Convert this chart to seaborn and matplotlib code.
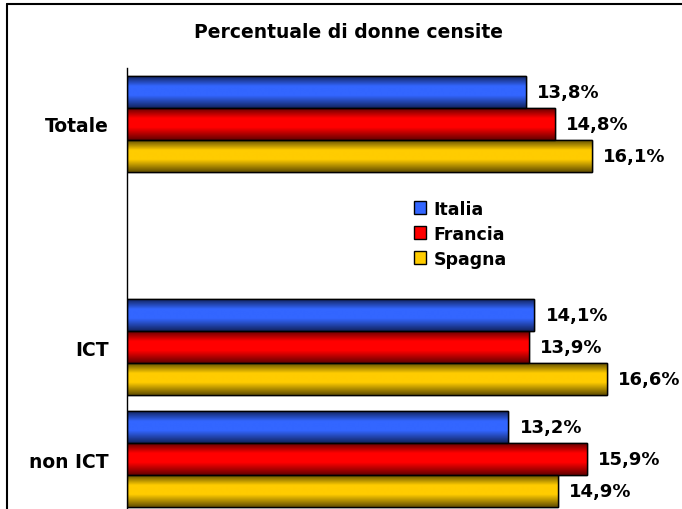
import matplotlib
matplotlib.use("Agg")
import matplotlib.pyplot as plt
import matplotlib.lines as mlines
import matplotlib.patches as mpatches
import numpy as np
import pandas as pd
import seaborn as sns
from matplotlib.colors import LinearSegmentedColormap

sns.set_theme(style="white")
plt.rcParams["font.family"] = ["DejaVu Sans"]
plt.rcParams["text.color"] = "black"

title = "Percentuale di donne censite"
categories = ["Totale", " ", "ICT", "non ICT"]
countries = ["Italia", "Francia", "Spagna"]
italia = [13.8, 14.1, 13.2]
francia = [14.8, 13.9, 15.9]
spagna = [16.1, 16.6, 14.9]
data_categories = ["Totale", "ICT", "non ICT"]

colors = {"Italia": "#3366ff", "Francia": "#ff0000", "Spagna": "#ffcc00"}
dark = {"Italia": "#12245f", "Francia": "#650000", "Spagna": "#634f00"}

rows = []
for name, vals in zip(countries, [italia, francia, spagna]):
    for c, v in zip(data_categories, vals):
        rows.append({"cat": c, "paese": name, "val": v})
df = pd.DataFrame(rows)

W, H = 682, 510
fig = plt.figure(figsize=(W / 100, H / 100), dpi=100)
ax = fig.add_axes([127 / W, (H - 516) / H, (W - 127) / W, 447 / H])

sns.barplot(data=df, y="cat", x="val", hue="paese", order=categories,
            hue_order=countries, palette=colors, orient="h", width=0.857,
            edgecolor="black", linewidth=1.0, saturation=1, legend=False, ax=ax)

ax.set_xlim(0, (W - 127) / 28.9)
ax.set_ylim(3.5, -0.5)

# gradient shading per bar
for cont, name in zip(ax.containers, countries):
    cmap = LinearSegmentedColormap.from_list(
        name, [dark[name], colors[name], colors[name], dark[name]], N=256)
    grad = np.concatenate([np.linspace(0, 0.42, 40), np.linspace(0.42, 0.58, 10),
                           np.linspace(0.58, 1, 50)]).reshape(-1, 1)
    for p in cont.patches:
        x0, y0 = p.get_x(), p.get_y()
        w, h = p.get_width(), p.get_height()
        if not np.isfinite(w) or w == 0:
            continue
        im = ax.imshow(grad, cmap=cmap, aspect="auto", extent=[x0, x0 + w, y0 + h, y0],
                       interpolation="bilinear", zorder=p.get_zorder() + 0.1)
        im.set_clip_path(p)
        edge = mpatches.Rectangle((x0, y0), w, h, fill=False, edgecolor="black",
                                  linewidth=1.0, zorder=p.get_zorder() + 0.2)
        ax.add_patch(edge)
    labels = [("" if not np.isfinite(p.get_width()) else f"{p.get_width():.1f}%".replace(".", ","))
              for p in cont.patches]
    ax.bar_label(cont, labels=labels, padding=8, fontsize=13, fontweight="bold",
                 color="black")

ax.set_xlim(0, (W - 127) / 28.9)
ax.set_ylim(3.5, -0.5)
ax.set_xlabel("")
ax.set_ylabel("")
ax.set_xticks([])
ax.tick_params(axis="y", length=0, pad=13)
for lab in ax.get_yticklabels():
    lab.set_fontsize(13.5)
    lab.set_fontweight("bold")
    lab.set_color("black")
for s in ["top", "right", "bottom"]:
    ax.spines[s].set_visible(False)
ax.spines["left"].set_color("black")
ax.spines["left"].set_linewidth(1.0)

handles = [mpatches.Patch(facecolor=colors[c], edgecolor="black", linewidth=1.0, label=c)
           for c in countries]
leg = fig.legend(handles=handles, loc="upper left", bbox_to_anchor=(398 / W, 1 - 185 / H),
                 frameon=False, prop={"weight": "bold", "size": 12.5}, labelcolor="black",
                 handlelength=0.7, handleheight=0.7, handletextpad=0.45, labelspacing=0.4)

fig.text(349 / W, 1 - 33 / H, title, ha="center", va="center", fontsize=13.5,
         fontweight="bold", color="black")

fig.add_artist(mlines.Line2D([6.5 / W, 1.0], [1 - 4.5 / H, 1 - 4.5 / H], color="black",
                             linewidth=1.5, transform=fig.transFigure))
fig.add_artist(mlines.Line2D([6.5 / W, 6.5 / W], [0, 1 - 4.5 / H], color="black",
                             linewidth=1.5, transform=fig.transFigure))

fig.savefig("out.png", dpi=100)
